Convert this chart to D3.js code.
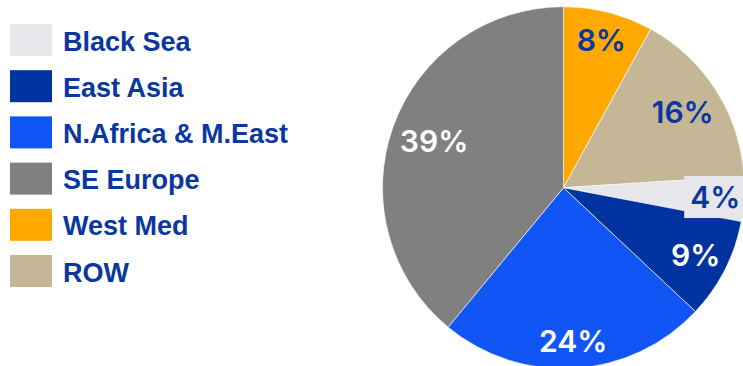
<!DOCTYPE html>
<html>
<head>
<meta charset="utf-8">
<script src="https://cdn.jsdelivr.net/npm/d3@7"></script>
<style>
    body{margin:0;background:#fff;}
    svg{display:block;}
</style>
</head>
<body>
<svg id="fig" width="743" height="366"></svg>
<script>
// data
const regions = ["Black Sea", "East Asia", "N.Africa & M.East", "SE Europe", "West Med", "ROW"]
const shares = [4, 9, 24, 39, 8, 16]
const colors = ["#E6E6EB", "#0033A0", "#1155F5", "#808080", "#FFA800", "#C5B796"]
const labelColors = ["#0A37A0", "#fff", "#fff", "#fff", "#0A37A0", "#0A37A0"]
// order slices go round the pie, clockwise from 12 o'clock
const pieOrder = ["West Med", "ROW", "Black Sea", "East Asia", "N.Africa & M.East", "SE Europe"]

const textColor = "#0A37A0"
const svg = d3.select("#fig")

const rows = regions.map((name, i) => ({name, value: shares[i], color: colors[i], labelColor: labelColors[i]}))

// legend
const legend = svg.append("g")
let legendY = d3.scalePoint().domain(regions).range([24, 255])
legend.selectAll("rect").data(rows).join("rect")
    .attr("x", 10)
    .attr("y", d => legendY(d.name))
    .attr("width", 42)
    .attr("height", 32)
    .attr("fill", d => d.color)
legend.selectAll("text").data(rows).join("text")
    .attr("x", 63)
    .attr("y", d => legendY(d.name) + 26.5)
    .attr("font-family", "Liberation Sans, Arial, sans-serif")
    .attr("font-weight", "bold")
    .attr("font-size", 27)
    .attr("fill", textColor)
    .text(d => d.name)

// pie
const cx = 563.5, cy = 187.7, r = 181
// how far out each label sits, as a share of the radius (Excel best fit)
const labelDist = {"West Med": 0.84, "ROW": 0.78, "Black Sea": 0.84, "East Asia": 0.82, "N.Africa & M.East": 0.85, "SE Europe": 0.76}
const pieRows = pieOrder.map(n => rows.find(e => e.name == n))
const pie = d3.pie().sort(null).value(d => d.value)
const arcs = pie(pieRows)
const arc = d3.arc().innerRadius(0).outerRadius(r)
const labelPos = d => {
    const k = r * labelDist[d.data.name]
    return d3.arc().innerRadius(k).outerRadius(k).centroid(d)
}

const g = svg.append("g").attr("transform", `translate(${cx},${cy})`)
g.selectAll("path").data(arcs).join("path")
    .attr("d", arc)
    .attr("fill", d => d.data.color)
    .attr("stroke", "#fff")
    .attr("stroke-width", 0.6)

const labels = g.selectAll("g.lbl").data(arcs).join("g").attr("class", "lbl")
    .attr("transform", d => `translate(${labelPos(d)})`)

labels.append("text")
    .attr("text-anchor", "middle")
    .attr("dy", "0.36em")
    .attr("font-family", "Inter, 'Open Sans', sans-serif")
    .attr("font-weight", 600)
    .attr("font-size", 30)
    .attr("fill", d => d.data.labelColor)
    .text(d => d.data.value + "%")

// small slices get a box in the slice colour behind the label
labels.filter(d => d.data.value < 5).each(function(d){
    const sel = d3.select(this)
    const bb = sel.select("text").node().getBBox()
    sel.insert("rect", "text")
        .attr("x", bb.x - 6)
        .attr("y", bb.y - 3)
        .attr("width", bb.width + 14)
        .attr("height", bb.height + 6)
        .attr("fill", d.data.color)
})
</script>
</body>
</html>
